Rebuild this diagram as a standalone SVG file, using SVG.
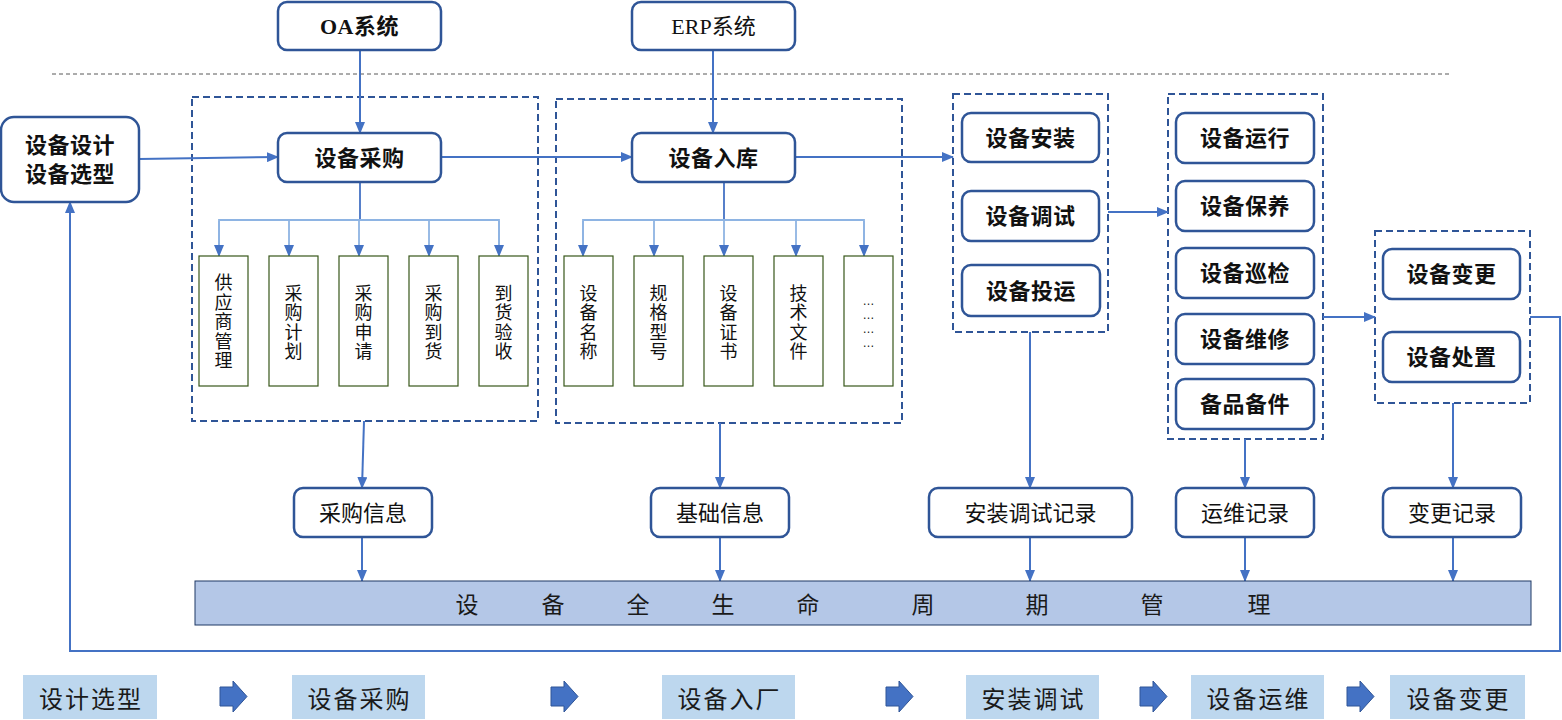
<svg xmlns="http://www.w3.org/2000/svg" width="1562" height="720" viewBox="0 0 1562 720">
<defs>
<marker id="ah" markerWidth="12" markerHeight="10" refX="11" refY="5" orient="auto" markerUnits="userSpaceOnUse">
<path d="M0,0 L12,5 L0,10 Z" fill="#4472C4"/>
</marker>
<style>
.node{fill:#fff;stroke:#2F5597;stroke-width:2.5}
.grp{fill:none;stroke:#2F5597;stroke-width:2;stroke-dasharray:7 4}
.sub{fill:#fff;stroke:#38571A;stroke-width:1.2}
.conn{fill:none;stroke:#4472C4;stroke-width:2}
.br{fill:none;stroke:#8EB4E3;stroke-width:1.8}
.brd{fill:none;stroke:#4472C4;stroke-width:1.8}
.nt{font-family:"Liberation Serif","Noto Sans CJK SC",serif;font-weight:bold;font-size:22px;letter-spacing:0.5px;fill:#111;text-anchor:middle;dominant-baseline:central}
.rt{font-family:"Liberation Serif","Noto Sans CJK SC",serif;font-size:22px;fill:#111;text-anchor:middle;dominant-baseline:central}
.vt{font-family:"Noto Sans CJK SC",sans-serif;font-size:18px;letter-spacing:1.5px;fill:#111;text-anchor:middle;writing-mode:vertical-rl}
.dt{font-family:"Liberation Sans",sans-serif;font-size:12px;fill:#111;text-anchor:middle}
.bt{font-family:"Noto Sans CJK SC",sans-serif;font-size:23px;fill:#1a1a1a;text-anchor:middle;dominant-baseline:central}
.lg{fill:#BDD7EE}
.lt{font-family:"Noto Sans CJK SC",sans-serif;font-size:24px;letter-spacing:2px;fill:#1a1a1a;text-anchor:middle;dominant-baseline:central}
.ba{fill:#4472C4;stroke:#2F5597;stroke-width:1}
</style>
</defs>
<rect width="1562" height="720" fill="#fff"/>

<line x1="52" y1="74" x2="1450" y2="74" stroke="#595959" stroke-width="1" stroke-dasharray="4 3"/>

<g id="groups">
<rect class="grp" x="192" y="97" width="346" height="324"/>
<rect class="grp" x="556" y="99" width="346" height="324"/>
<rect class="grp" x="953" y="94" width="155" height="238"/>
<rect class="grp" x="1168" y="94" width="155" height="345"/>
<rect class="grp" x="1375" y="231" width="155" height="172"/>
</g>

<g id="connectors">
<line class="conn" x1="360" y1="50" x2="360" y2="133" marker-end="url(#ah)"/>
<line class="conn" x1="713" y1="50" x2="713" y2="133" marker-end="url(#ah)"/>
<line class="conn" x1="139" y1="159" x2="278" y2="157" marker-end="url(#ah)"/>
<line class="conn" x1="441" y1="157" x2="632" y2="157" marker-end="url(#ah)"/>
<line class="conn" x1="795" y1="157" x2="953" y2="157" marker-end="url(#ah)"/>
<line class="conn" x1="1108" y1="212" x2="1168" y2="212" marker-end="url(#ah)"/>
<line class="conn" x1="1323" y1="317" x2="1375" y2="317" marker-end="url(#ah)"/>
<polyline class="conn" points="1530,317 1560,317 1560,651 70,651 70,202" marker-end="url(#ah)"/>
<line class="conn" x1="364" y1="421" x2="362" y2="488" marker-end="url(#ah)"/>
<line class="conn" x1="720" y1="423" x2="720" y2="488" marker-end="url(#ah)"/>
<line class="conn" x1="1030" y1="332" x2="1030" y2="488" marker-end="url(#ah)"/>
<line class="conn" x1="1245" y1="439" x2="1245" y2="488" marker-end="url(#ah)"/>
<line class="conn" x1="1453" y1="403" x2="1453" y2="488" marker-end="url(#ah)"/>
<line class="conn" x1="362" y1="537" x2="362" y2="581" marker-end="url(#ah)"/>
<line class="conn" x1="720" y1="537" x2="720" y2="581" marker-end="url(#ah)"/>
<line class="conn" x1="1030" y1="537" x2="1030" y2="581" marker-end="url(#ah)"/>
<line class="conn" x1="1245" y1="537" x2="1245" y2="581" marker-end="url(#ah)"/>
<line class="conn" x1="1453" y1="537" x2="1453" y2="581" marker-end="url(#ah)"/>
<line class="brd" x1="360" y1="182" x2="360" y2="220"/>
<polyline class="br" points="219,256 219,220 499,220 499,256"/>
<line class="br" x1="219" y1="221" x2="219" y2="256" marker-end="url(#ah)"/>
<line class="br" x1="289" y1="220" x2="289" y2="256" marker-end="url(#ah)"/>
<line class="br" x1="359" y1="220" x2="359" y2="256" marker-end="url(#ah)"/>
<line class="br" x1="429" y1="220" x2="429" y2="256" marker-end="url(#ah)"/>
<line class="br" x1="499" y1="221" x2="499" y2="256" marker-end="url(#ah)"/>
<line class="brd" x1="724" y1="182" x2="724" y2="220"/>
<polyline class="br" points="583,256 583,220 864,220 864,256"/>
<line class="br" x1="583" y1="221" x2="583" y2="256" marker-end="url(#ah)"/>
<line class="br" x1="654" y1="220" x2="654" y2="256" marker-end="url(#ah)"/>
<line class="br" x1="724" y1="220" x2="724" y2="256" marker-end="url(#ah)"/>
<line class="br" x1="796" y1="220" x2="796" y2="256" marker-end="url(#ah)"/>
<line class="br" x1="864" y1="221" x2="864" y2="256" marker-end="url(#ah)"/>
</g>

<g id="oa"><rect class="node" x="278" y="2" width="163" height="48" rx="9"/><text class="nt" x="359.5" y="26">OA系统</text></g>
<g id="erp"><rect class="node" x="632" y="2" width="163" height="48" rx="9"/><text class="rt" x="713.5" y="26">ERP系统</text></g>
<g id="design"><rect class="node" x="1" y="117" width="138" height="85" rx="13"/><text class="nt" x="70" y="145">设备设计</text><text class="nt" x="70" y="174">设备选型</text></g>
<g id="purchase"><rect class="node" x="278" y="133" width="163" height="49" rx="9"/><text class="nt" x="359.5" y="158">设备采购</text></g>
<g id="storage"><rect class="node" x="632" y="133" width="163" height="49" rx="9"/><text class="nt" x="713.5" y="158">设备入库</text></g>

<g id="sub-purchase">
<rect class="sub" x="199" y="256" width="49" height="130"/><text class="vt" x="223.5" y="322">供应商管理</text>
<rect class="sub" x="269" y="256" width="49" height="130"/><text class="vt" x="293.5" y="323">采购计划</text>
<rect class="sub" x="339" y="256" width="49" height="130"/><text class="vt" x="363.5" y="323">采购申请</text>
<rect class="sub" x="409" y="256" width="49" height="130"/><text class="vt" x="433.5" y="323">采购到货</text>
<rect class="sub" x="479" y="256" width="49" height="130"/><text class="vt" x="503.5" y="323">到货验收</text>
</g>

<g id="sub-storage">
<rect class="sub" x="564" y="256" width="49" height="130"/><text class="vt" x="588.5" y="323">设备名称</text>
<rect class="sub" x="634" y="256" width="49" height="130"/><text class="vt" x="658.5" y="323">规格型号</text>
<rect class="sub" x="704" y="256" width="49" height="130"/><text class="vt" x="728.5" y="323">设备证书</text>
<rect class="sub" x="774" y="256" width="49" height="130"/><text class="vt" x="798.5" y="323">技术文件</text>
<rect class="sub" x="844" y="256" width="49" height="130"/>
<text class="dt" x="868.5" y="305">…</text>
<text class="dt" x="868.5" y="319">…</text>
<text class="dt" x="868.5" y="333">…</text>
<text class="dt" x="868.5" y="347">…</text>
</g>

<g id="install"><rect class="node" x="962" y="113" width="137" height="49" rx="9"/><text class="nt" x="1030.5" y="138">设备安装</text></g>
<g id="debug"><rect class="node" x="962" y="191" width="137" height="50" rx="9"/><text class="nt" x="1030.5" y="216">设备调试</text></g>
<g id="commission"><rect class="node" x="962" y="265" width="138" height="51" rx="9"/><text class="nt" x="1031" y="291">设备投运</text></g>

<g id="run"><rect class="node" x="1176" y="113" width="138" height="50" rx="9"/><text class="nt" x="1245" y="138">设备运行</text></g>
<g id="maintain"><rect class="node" x="1176" y="181" width="138" height="50" rx="9"/><text class="nt" x="1245" y="206">设备保养</text></g>
<g id="inspect"><rect class="node" x="1176" y="248" width="138" height="50" rx="9"/><text class="nt" x="1245" y="273">设备巡检</text></g>
<g id="repair"><rect class="node" x="1176" y="314" width="138" height="50" rx="9"/><text class="nt" x="1245" y="339">设备维修</text></g>
<g id="spares"><rect class="node" x="1176" y="379" width="138" height="50" rx="9"/><text class="nt" x="1245" y="404">备品备件</text></g>

<g id="change"><rect class="node" x="1383" y="249" width="137" height="50" rx="9"/><text class="nt" x="1451.5" y="274">设备变更</text></g>
<g id="dispose"><rect class="node" x="1383" y="332" width="137" height="50" rx="9"/><text class="nt" x="1451.5" y="357">设备处置</text></g>

<g id="rec-purchase"><rect class="node" x="294" y="488" width="138" height="49" rx="9"/><text class="rt" x="363" y="513">采购信息</text></g>
<g id="rec-basic"><rect class="node" x="651" y="488" width="138" height="49" rx="9"/><text class="rt" x="720" y="513">基础信息</text></g>
<g id="rec-install"><rect class="node" x="929" y="488" width="203" height="49" rx="9"/><text class="rt" x="1030.5" y="513">安装调试记录</text></g>
<g id="rec-ops"><rect class="node" x="1176" y="488" width="138" height="49" rx="9"/><text class="rt" x="1245" y="513">运维记录</text></g>
<g id="rec-change"><rect class="node" x="1383" y="488" width="138" height="49" rx="9"/><text class="rt" x="1452" y="513">变更记录</text></g>

<g id="lifecycle">
<rect x="195" y="581" width="1336" height="44" fill="#B4C7E7" stroke="#1F3864" stroke-width="1"/>
<text class="bt" y="603"><tspan x="467">设</tspan><tspan x="553">备</tspan><tspan x="638">全</tspan><tspan x="723">生</tspan><tspan x="808">命</tspan><tspan x="923">周</tspan><tspan x="1037">期</tspan><tspan x="1152">管</tspan><tspan x="1259">理</tspan></text>
</g>

<g id="legend">
<rect class="lg" x="23" y="675" width="134" height="44"/><text class="lt" x="91" y="697">设计选型</text>
<rect class="lg" x="292" y="675" width="133" height="44"/><text class="lt" x="359.5" y="697">设备采购</text>
<rect class="lg" x="662" y="675" width="133" height="44"/><text class="lt" x="729.5" y="697">设备入厂</text>
<rect class="lg" x="966" y="675" width="133" height="44"/><text class="lt" x="1033.5" y="697">安装调试</text>
<rect class="lg" x="1191" y="675" width="133" height="44"/><text class="lt" x="1258.5" y="697">设备运维</text>
<rect class="lg" x="1390" y="675" width="135" height="44"/><text class="lt" x="1458.5" y="697">设备变更</text>
<path class="ba" d="M220,687 L233,687 L233,681 L247,696.5 L233,712 L233,706 L220,706 Z"/>
<path class="ba" d="M551,687 L564,687 L564,681 L578,696.5 L564,712 L564,706 L551,706 Z"/>
<path class="ba" d="M886,687 L899,687 L899,681 L913,696.5 L899,712 L899,706 L886,706 Z"/>
<path class="ba" d="M1140,687 L1153,687 L1153,681 L1167,696.5 L1153,712 L1153,706 L1140,706 Z"/>
<path class="ba" d="M1347,687 L1360,687 L1360,681 L1374,696.5 L1360,712 L1360,706 L1347,706 Z"/>
</g>
</svg>
